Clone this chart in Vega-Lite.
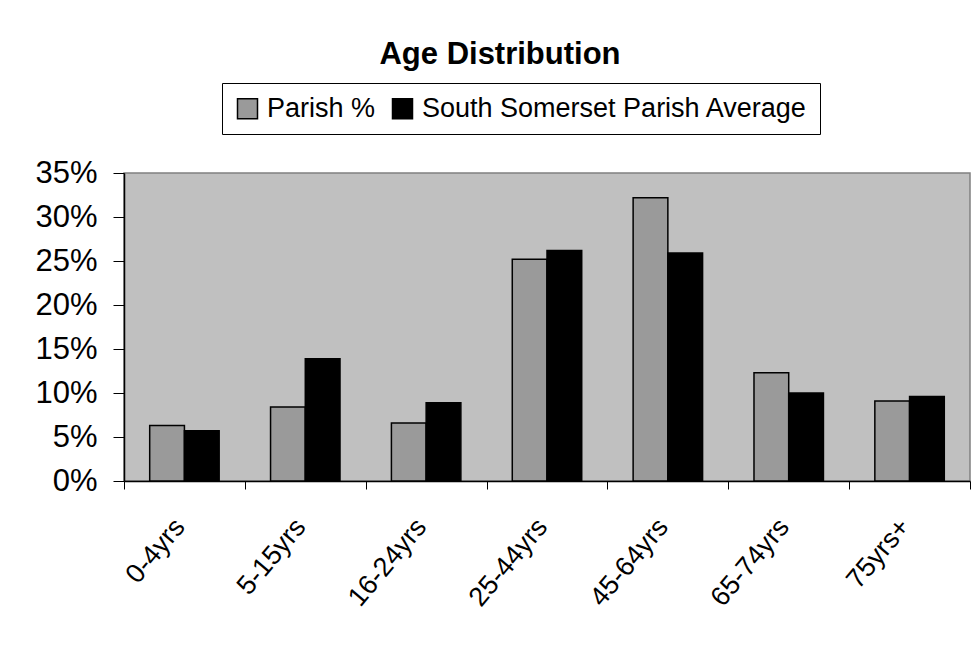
{
  "$schema": "https://vega.github.io/schema/vega-lite/v6.json",
  "width": 846,
  "height": 308,
  "padding": {"left": 124, "top": 173, "right": 9, "bottom": 189},
  "autosize": {"type": "none"},
  "background": "white",
  "title": {
    "text": "Age Distribution",
    "font": "Liberation Sans",
    "fontSize": 31,
    "fontWeight": "bold",
    "color": "black",
    "anchor": "middle",
    "frame": "group",
    "dx": -47,
    "offset": 12
  },
  "data": {
    "values": [
      {"age": "0-4yrs", "series": "Parish %", "value": 0.063},
      {"age": "0-4yrs", "series": "South Somerset Parish Average", "value": 0.057},
      {"age": "5-15yrs", "series": "Parish %", "value": 0.084},
      {"age": "5-15yrs", "series": "South Somerset Parish Average", "value": 0.139},
      {"age": "16-24yrs", "series": "Parish %", "value": 0.066},
      {"age": "16-24yrs", "series": "South Somerset Parish Average", "value": 0.089},
      {"age": "25-44yrs", "series": "Parish %", "value": 0.252},
      {"age": "25-44yrs", "series": "South Somerset Parish Average", "value": 0.262},
      {"age": "45-64yrs", "series": "Parish %", "value": 0.322},
      {"age": "45-64yrs", "series": "South Somerset Parish Average", "value": 0.259},
      {"age": "65-74yrs", "series": "Parish %", "value": 0.123},
      {"age": "65-74yrs", "series": "South Somerset Parish Average", "value": 0.100},
      {"age": "75yrs+", "series": "Parish %", "value": 0.091},
      {"age": "75yrs+", "series": "South Somerset Parish Average", "value": 0.096}
    ]
  },
  "mark": {"type": "bar", "stroke": "black", "strokeWidth": 1.5},
  "encoding": {
    "x": {
      "field": "age",
      "type": "nominal",
      "sort": null,
      "scale": {"paddingInner": 0, "paddingOuter": 0},
      "axis": {
        "title": null,
        "labelAngle": -50,
        "labelAlign": "right",
        "labelBaseline": "middle",
        "labelFont": "Liberation Sans",
        "labelFontSize": 27,
        "labelColor": "black",
        "labelPadding": 33,
        "labelOffset": -5,
        "tickSize": 8,
        "tickColor": "black",
        "domainColor": "black",
        "domainWidth": 1.5,
        "tickBand": "extent",
        "grid": false
      }
    },
    "xOffset": {
      "field": "series",
      "type": "nominal",
      "sort": ["Parish %", "South Somerset Parish Average"],
      "scale": {"paddingInner": 0, "paddingOuter": 0.74}
    },
    "y": {
      "field": "value",
      "type": "quantitative",
      "scale": {"domain": [0, 0.35], "nice": false},
      "axis": {
        "title": null,
        "format": ".0%",
        "values": [0, 0.05, 0.1, 0.15, 0.2, 0.25, 0.3, 0.35],
        "labelFont": "Liberation Sans",
        "labelFontSize": 31,
        "labelColor": "black",
        "labelPadding": 16,
        "tickSize": 11,
        "tickColor": "black",
        "domainColor": "black",
        "domainWidth": 1.5,
        "grid": false
      }
    },
    "fill": {
      "field": "series",
      "type": "nominal",
      "scale": {
        "domain": ["Parish %", "South Somerset Parish Average"],
        "range": ["#9a9a9a", "#000000"]
      },
      "legend": {
        "title": null,
        "orient": "none",
        "direction": "horizontal",
        "legendX": 98,
        "legendY": -90,
        "strokeColor": "black",
        "fillColor": "white",
        "padding": 12,
        "symbolType": "square",
        "symbolSize": 400,
        "symbolStrokeColor": "black",
        "symbolStrokeWidth": 1.5,
        "labelFont": "Liberation Sans",
        "labelFontSize": 27,
        "labelColor": "black",
        "labelLimit": 600,
        "labelOffset": 6,
        "columnPadding": 13
      }
    }
  },
  "config": {
    "view": {"fill": "#c0c0c0", "stroke": "#808080", "strokeWidth": 1.5}
  }
}
